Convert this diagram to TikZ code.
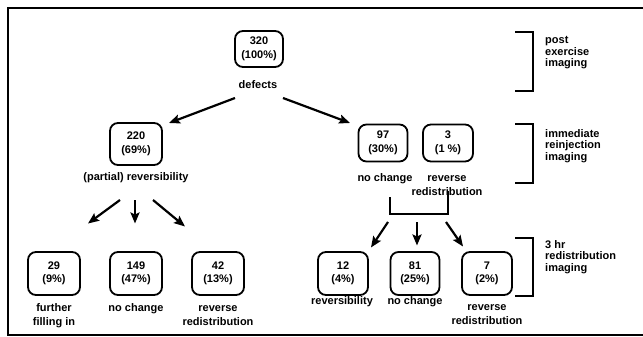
\documentclass[tikz,border=0pt]{standalone}
\usepackage{fontspec}
\setmainfont{Liberation Sans}
\usetikzlibrary{arrows.meta}

\tikzset{
  cnt/.style={draw, line width=1.8pt, rounded corners=8pt, minimum width=52pt,
    minimum height=43pt, inner sep=0pt, align=center,
    font=\bfseries\fontsize{11}{13.5}\selectfont},
  lbl/.style={inner sep=0pt, align=center, font=\bfseries\fontsize{11}{14}\selectfont},
  side/.style={inner sep=0pt, align=left, anchor=west, font=\bfseries\fontsize{11}{11.5}\selectfont},
  arr/.style={line width=2.2pt, -{Stealth[length=11pt,width=9pt,inset=2pt]}},
  bar/.style={line width=2pt},
}

\begin{document}
\begin{tikzpicture}[x=1pt, y=-1pt]
        \useasboundingbox (0,0) rectangle (643,337);
        \draw [line width=2.4pt] (643,8) -- (8,8) -- (8,335) -- (643,335);

        % post exercise
        \node [cnt, minimum width=48pt, minimum height=36pt] (b320) at (259,49) {320\\(100\%)};
        \node [lbl] (ldef) at (258,85) {defects};

        % immediate reinjection
        \node [cnt, minimum width=52pt, minimum height=42pt] (b220) at (136,144) {220\\(69\%)};
        \node [lbl] (lpart) at (136,178) {(partial) reversibility};
        \node [cnt, minimum width=49pt, minimum height=37pt] (b97) at (383,143) {97\\(30\%)};
        \node [cnt, minimum width=50pt, minimum height=37pt] (b3) at (448,143) {3\\(1 \%)};
        \node [lbl] (lnc) at (385,179) {no change};
        \node [lbl] (lrr) at (447,185.5) {reverse\\redistribution};

        \draw [arr] ([shift={(-23,13)}] ldef.center) -- ([shift={(33,-21)}] b220.center);
        \draw [arr] ([shift={(25,13)}] ldef.center) -- ([shift={(-33,-20)}] b97.center);

        % 3 hr redistribution
        \node [cnt] (b29) at (54,273.5) {29\\(9\%)};
        \node [cnt] (b149) at (136,273.5) {149\\(47\%)};
        \node [cnt] (b42) at (218,273.5) {42\\(13\%)};
        \node [lbl] (lfill) at (54,316) {further\\filling in};
        \node [lbl] (lnc2) at (136,309) {no change};
        \node [lbl] (lrr2) at (218,316) {reverse\\redistribution};

        \draw [arr] ([shift={(-16,22)}] lpart.center) -- ([shift={(34,-50)}] b29.center);
        \draw [arr] ([shift={(-1,22)}] lpart.center) -- ([shift={(-1,-50)}] b149.center);
        \draw [arr] ([shift={(17,22)}] lpart.center) -- ([shift={(-33,-47)}] b42.center);

        \node [cnt, minimum width=50pt] (b12) at (343,273.5) {12\\(4\%)};
        \node [cnt, minimum width=49pt] (b81) at (415,273.5) {81\\(25\%)};
        \node [cnt, minimum width=50pt] (b7) at (487,273.5) {7\\(2\%)};
        \node [lbl] (lrev3) at (342,302) {reversibility};
        \node [lbl] (lnc3) at (415,302) {no change};
        \node [lbl] (lrr3) at (487,315) {reverse\\redistribution};

        \coordinate (fork) at (419,214);
        \draw [bar] ([shift={(-29,-17)}] fork) |- (fork) -| ([shift={(29,-23)}] fork);
        \draw [arr] ([shift={(-31,8)}] fork) -- ([shift={(28,-26)}] b12.center);
        \draw [arr] ([shift={(-2,8)}] fork) -- ([shift={(2,-28)}] b81.center);
        \draw [arr] ([shift={(27,8)}] fork) -- ([shift={(-24,-27)}] b7.center);

        % imaging stages
        \draw [bar] (515,32) -| (533,91) -- (515,91);
        \draw [bar] (515,124) -| (533,183) -- (515,183);
        \draw [bar] (515,238) -| (533,296) -- (515,296);
        \node [side] (tpost) at (545,53) {post\\exercise\\imaging};
        \node [side] (timm) at (545,146) {immediate\\reinjection\\imaging};
        \node [side] (tred) at (545,257) {3 hr\\redistribution\\imaging};
    \end{tikzpicture}
\end{document}
